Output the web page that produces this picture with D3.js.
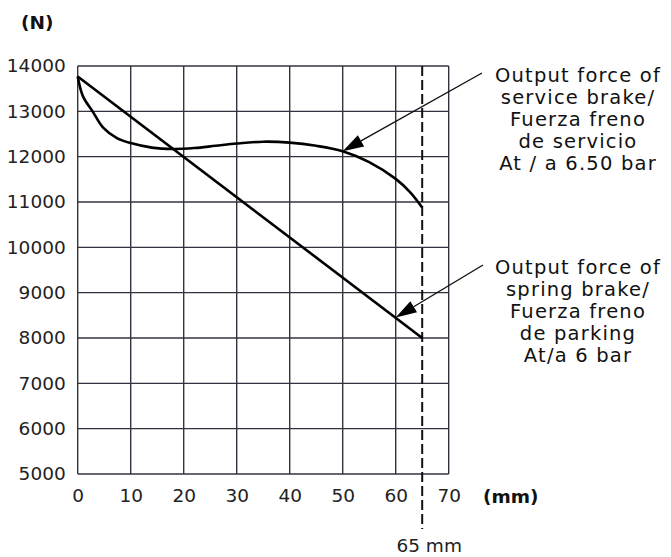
<!DOCTYPE html>
<html>
<head>
<meta charset="utf-8">
<script src="https://cdn.jsdelivr.net/npm/d3@7/dist/d3.min.js"></script>
<style>
  html, body { margin: 0; padding: 0; background: #fff; }
  svg { display: block; }
</style>
</head>
<body>
<svg id="chart" width="671" height="557"></svg>
<script>
// ---- data ----
const xTicks = [0, 10, 20, 30, 40, 50, 60, 70];
const yTicks = [5000, 6000, 7000, 8000, 9000, 10000, 11000, 12000, 13000, 14000];

const serviceX = [0, 1, 2.8, 4.8, 7.4, 10, 14, 18, 22, 26, 30, 35, 40, 45, 50, 55, 60, 62.7, 65];
const serviceY = [13770, 13330, 13000, 12640, 12410, 12300, 12200, 12170, 12190, 12240, 12290, 12330, 12310, 12240, 12120, 11880, 11510, 11220, 10880];

const springX = [0, 65];
const springY = [13770, 8000];

const strokeMM = 65;
const strokeLabel = "65 mm";
const yUnit = "(N)";
const xUnit = "(mm)";

const serviceLabel = ["Output force of", "service brake/", "Fuerza freno", "de servicio", "At / a 6.50 bar"];
const springLabel = ["Output force of", "spring brake/", "Fuerza freno", "de parking", "At/a 6 bar"];
const serviceArrowAt = [50, 12120];
const springArrowAt = [60, 8450];

// ---- layout ----
const svg = d3.select("#chart");
const font = "'DejaVu Sans', sans-serif";
const x = d3.scaleLinear().domain([0, 70]).range([77.7, 448.7]);
const y = d3.scaleLinear().domain([5000, 14000]).range([474, 66]);

const gridColor = "#33333f";

// grid
const g = svg.append("g");
g.selectAll("line.v").data(xTicks).join("line")
  .attr("x1", d => x(d)).attr("x2", d => x(d))
  .attr("y1", y(14000)).attr("y2", y(5000))
  .attr("stroke", gridColor).attr("stroke-width", 1.4);
g.selectAll("line.h").data(yTicks).join("line")
  .attr("y1", d => y(d)).attr("y2", d => y(d))
  .attr("x1", x(0)).attr("x2", x(70))
  .attr("stroke", gridColor).attr("stroke-width", 1.4);

// axes labels via d3 axes (no domain, no tick lines)
const yAxis = d3.axisLeft(y).tickValues(yTicks).tickSize(0).tickPadding(12).tickFormat(d3.format("d"));
const ya = svg.append("g").attr("transform", `translate(${x(0)},0)`).call(yAxis);
ya.select(".domain").remove();
ya.selectAll("text").attr("font-family", font).attr("font-size", 18.5).attr("fill", "#222");

const xAxis = d3.axisBottom(x).tickValues(xTicks).tickSize(0).tickPadding(15).tickFormat(d3.format("d"));
const xa = svg.append("g").attr("transform", `translate(0,${y(5000)})`).call(xAxis);
xa.select(".domain").remove();
xa.selectAll("text").attr("font-family", font).attr("font-size", 18.5).attr("fill", "#222");

// unit labels
svg.append("text").attr("x", 21).attr("y", 29).text(yUnit)
  .attr("font-family", font).attr("font-weight", "bold").attr("font-size", 18.5).attr("fill", "#111");
svg.append("text").attr("x", 483).attr("y", 503).text(xUnit)
  .attr("font-family", font).attr("font-weight", "bold").attr("font-size", 18.5).attr("fill", "#111");

// dashed stroke line
svg.append("line")
  .attr("x1", x(strokeMM)).attr("x2", x(strokeMM))
  .attr("y1", y(14000)).attr("y2", 529)
  .attr("stroke", "#111").attr("stroke-width", 2).attr("stroke-dasharray", "10,4");
svg.append("text").attr("x", x(strokeMM) + 7).attr("y", 552).attr("text-anchor", "middle")
  .text(strokeLabel).attr("font-family", font).attr("font-size", 18.5).attr("fill", "#222");

// curves
const line = d3.line().x(d => x(d[0])).y(d => y(d[1])).curve(d3.curveCatmullRom.alpha(0.5));
svg.append("path").datum(serviceX.map((v, i) => [v, serviceY[i]]))
  .attr("d", line).attr("fill", "none").attr("stroke", "#000").attr("stroke-width", 2.6);
svg.append("path").datum(springX.map((v, i) => [v, springY[i]]))
  .attr("d", d3.line().x(d => x(d[0])).y(d => y(d[1])))
  .attr("fill", "none").attr("stroke", "#000").attr("stroke-width", 2.6);

// annotations
function annotate(lines, cx, baseline, start, tipData) {
  const t = svg.append("g");
  lines.forEach((s, i) => {
    t.append("text").attr("x", cx).attr("y", baseline + i * 22).text(s)
      .attr("font-family", font).attr("font-size", 19.5).attr("letter-spacing", 1.2)
      .attr("fill", "#111").attr("text-anchor", "middle");
  });
  const tx = x(tipData[0]), ty = y(tipData[1]);
  const dx = tx - start[0], dy = ty - start[1];
  const len = Math.hypot(dx, dy);
  const ux = dx / len, uy = dy / len;
  const hl = 21, hw = 6.5;
  const bx = tx - ux * hl, by = ty - uy * hl;
  svg.append("line").attr("x1", start[0]).attr("y1", start[1]).attr("x2", bx).attr("y2", by)
    .attr("stroke", "#111").attr("stroke-width", 1.4);
  svg.append("path")
    .attr("d", `M${tx},${ty}L${bx - uy * hw},${by + ux * hw}L${bx + uy * hw},${by - ux * hw}Z`)
    .attr("fill", "#000");
}
annotate(serviceLabel, 578, 82, [482, 73], serviceArrowAt);
annotate(springLabel, 578, 274, [483, 265], springArrowAt);
</script>
</body>
</html>
